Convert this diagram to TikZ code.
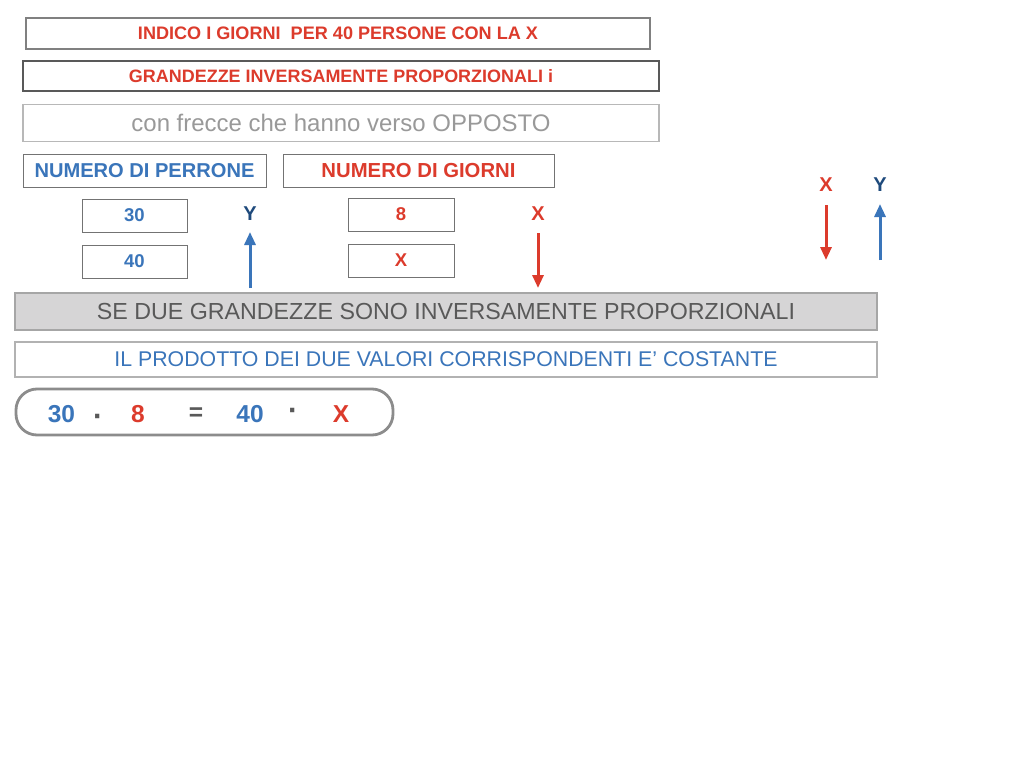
\documentclass[tikz,border=0pt]{standalone}
\usepackage{fontspec}
\setmainfont{Liberation Sans}
\usetikzlibrary{arrows.meta}
\definecolor{cred}{HTML}{DC3B2C}
\definecolor{cblue}{HTML}{3A75BA}
\definecolor{cnavy}{HTML}{1E4A7C}
\definecolor{cgraytxt}{HTML}{999999}
\definecolor{cdark}{HTML}{595959}
\definecolor{cfill}{HTML}{D6D5D6}
\newcommand\fitw[2]{\resizebox{#1pt}{!}{#2}}
\begin{document}
\begin{tikzpicture}[x=1pt,y=-1pt,
  box/.style={draw=#1,line width=1.3pt,inner sep=0pt,anchor=center},
  box/.default={black!55},
  small/.style={box=black!55,line width=1pt,minimum width=105pt,minimum height=33pt,font=\fontsize{18.5}{20}\selectfont\bfseries},
  lbl/.style={inner sep=0pt,font=\fontsize{20}{22}\selectfont\bfseries},
  eq/.style={inner sep=0pt,font=\fontsize{24.5}{26}\selectfont\bfseries},
  eqdot/.style={inner sep=0pt,anchor=base,text=cdark,font=\fontsize{30}{30}\selectfont\bfseries},
  arr/.style={line width=3pt,-{Triangle[length=13pt,width=11pt]}}
]
\useasboundingbox (0,0) rectangle (1024,768);
\fill[white] (0,0) rectangle (1024,768);

\node[box=black!50,minimum width=624pt,minimum height=31pt,text=cred] (b1) at (338,33.5)
  {\fitw{400}{\bfseries INDICO I GIORNI\ \ PER 40 PERSONE CON LA X}};
\node[box=black!65,minimum width=636pt,minimum height=30pt,text=cred] (b2) at (341,76)
  {\fitw{424}{\bfseries GRANDEZZE INVERSAMENTE PROPORZIONALI i}};
\node[box=black!28,minimum width=636pt,minimum height=37pt,text=cgraytxt] (b3) at (341,123)
  {\fitw{419}{con frecce che hanno verso OPPOSTO}};

\node[box=black!55,line width=1pt,minimum width=243pt,minimum height=33pt,text=cblue] (b4) at (144.5,170.5)
  {\fitw{220}{\bfseries NUMERO DI PERRONE}};
\node[box=black!55,line width=1pt,minimum width=271pt,minimum height=33pt,text=cred] (b5) at (418.5,170.5)
  {\fitw{194}{\bfseries NUMERO DI GIORNI}};

\node[small,text=cblue] (v30) at (134.5,215.5) {30};
\node[small,text=cblue] (v40) at (134.5,261.5) {40};
\node[small,minimum width=106pt,text=cred] (v8) at (401,214.5) {8};
\node[small,minimum width=106pt,text=cred] (vx) at (401,260.5) {X};

% arrows near table
\node[lbl,text=cnavy] (ly1) at (250,214) {Y};
\coordinate (ay1s) at (250,288);
\coordinate (ay1e) at (250,232);
\draw[arr,cblue] (ay1s) -- (ay1e);
\node[lbl,text=cred] (lx1) at (538,214) {X};
\coordinate (ax1s) at (538,233);
\coordinate (ax1e) at (538,288);
\draw[arr,cred] (ax1s) -- (ax1e);

% arrows at right
\node[lbl,text=cred] (lx2) at (826,185) {X};
\coordinate (ax2s) at (826,205);
\coordinate (ax2e) at (826,260);
\draw[arr,cred] (ax2s) -- (ax2e);
\node[lbl,text=cnavy] (ly2) at (880,185) {Y};
\coordinate (ay2s) at (880,260);
\coordinate (ay2e) at (880,204);
\draw[arr,cblue] (ay2s) -- (ay2e);

\node[box=black!35,fill=cfill,minimum width=862pt,minimum height=37pt,text=cdark] (b10) at (446,311.5)
  {\fitw{698}{SE DUE GRANDEZZE SONO INVERSAMENTE PROPORZIONALI}};
\node[box=black!30,minimum width=862pt,minimum height=35pt,text=cblue] (b11) at (446,359.5)
  {\fitw{663}{IL PRODOTTO DEI DUE VALORI CORRISPONDENTI E’ COSTANTE}};

\node[draw=black!45,line width=2.8pt,rounded corners=21pt,minimum width=377pt,minimum height=46pt,inner sep=0pt] (b12) at (204.5,412) {};
\node[eq,text=cblue] (e1) at (61.5,413.7) {30};
\node[eqdot] (e2) at (98,426) {·};
\node[eq,text=cred] (e3) at (138,413.7) {8};
\node[eq,text=cdark] (e4) at (196,413.7) {=};
\node[eq,text=cblue] (e5) at (250,413.7) {40};
\node[eqdot] (e6) at (293,420) {·};
\node[eq,text=cred] (e7) at (341,413.7) {X};
\end{tikzpicture}
\end{document}
